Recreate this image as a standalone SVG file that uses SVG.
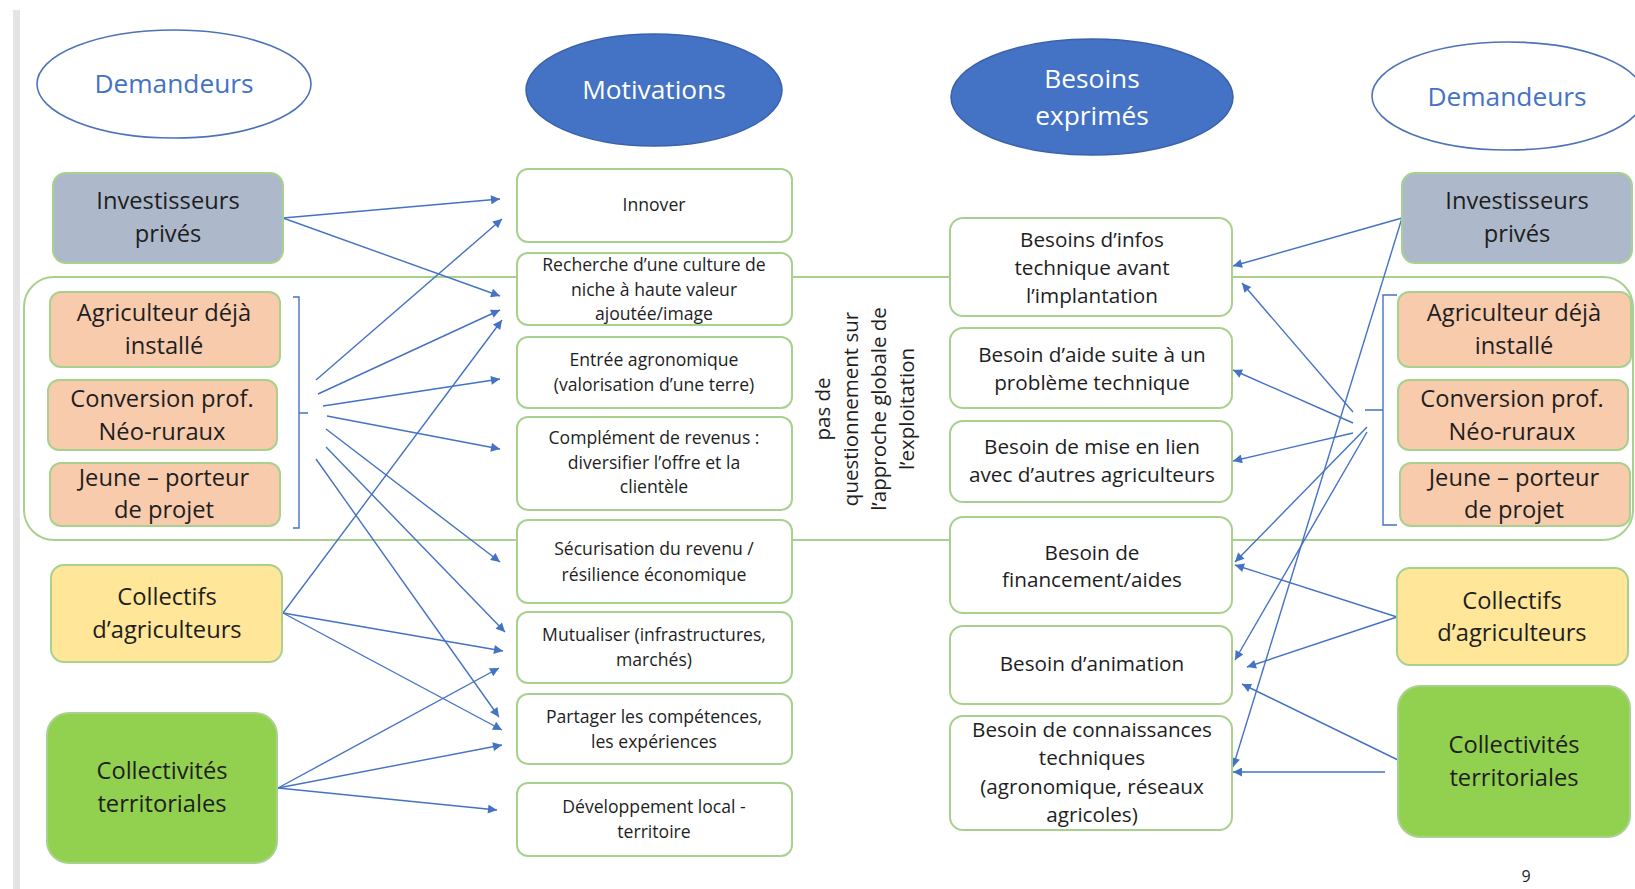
<svg xmlns="http://www.w3.org/2000/svg" width="1635" height="889" viewBox="0 0 1635 889">
<defs>
<marker id="ah" viewBox="0 0 10 10" refX="10" refY="5" markerWidth="12" markerHeight="9" markerUnits="userSpaceOnUse" orient="auto"><path d="M0,0 L10,5 L0,10 z" fill="#4472C4"/></marker>
<style>
text{font-family:"Open Sans","Noto Sans","DejaVu Sans",sans-serif;text-anchor:middle;fill:#1e1e1e}
.box{stroke:#A9D18E;stroke-width:2}
.w{fill:#ffffff}
.inv{fill:#ADB9CA}
.pe{fill:#F8CBAD}
.ye{fill:#FFE699}
.gr{fill:#92D050}
.big{font-size:23.7px}
.mot{font-size:17.6px}
.bes{font-size:20.7px}
.ell{font-size:26.3px}
.hdr{fill:#4472C4;stroke:none}
.wt{fill:#ffffff}
.dem{fill:#ffffff;stroke:#4E72B8;stroke-width:1.6}
.blue{fill:#4472C4;stroke:#3A62AA;stroke-width:1.5}
.ln{stroke:#4472C4;stroke-width:1.4;fill:none}
.arr{stroke:#4472C4;stroke-width:1.4;fill:none;marker-end:url(#ah)}
</style>
</defs>
<rect width="1635" height="889" fill="#ffffff"/>
<rect x="13" y="10" width="7" height="879" fill="#E4E4E4"/>

<g id="group-frame">
<rect x="24" y="277" width="1609" height="263" rx="30" fill="none" stroke="#A9D18E" stroke-width="2"/>
</g>

<g id="brackets">
<path class="ln" d="M293,297 H299 V528 H293 M299,413 H308"/>
<path class="ln" d="M1397,295 H1383 V525 H1397 M1383,410 H1365"/>
</g>

<g id="connectors">
<path class="arr" d="M283,218 L500,199"/>
<path class="arr" d="M283,218 L500,296"/>
<path class="arr" d="M316,380 L502,219"/>
<path class="arr" d="M318,394 L500,310"/>
<path class="arr" d="M323,406 L500,379"/>
<path class="arr" d="M327,416 L500,449"/>
<path class="arr" d="M326,429 L500,562"/>
<path class="arr" d="M326,447 L505,632"/>
<path class="arr" d="M316,459 L499,717"/>
<path class="arr" d="M283,613 L502,320"/>
<path class="arr" d="M283,613 L503,651"/>
<path class="arr" d="M283,613 L502,730"/>
<path class="arr" d="M278,788 L499,668"/>
<path class="arr" d="M278,788 L502,745"/>
<path class="arr" d="M278,788 L497,810"/>
<path class="arr" d="M1402,218 L1233,266"/>
<path class="arr" d="M1402,218 L1233,767"/>
<path class="arr" d="M1353,412 L1242,283"/>
<path class="arr" d="M1353,423 L1233,370"/>
<path class="arr" d="M1353,433 L1233,461"/>
<path class="arr" d="M1367,427 L1235,562"/>
<path class="arr" d="M1367,432 L1235,660"/>
<path class="arr" d="M1397,617 L1235,565"/>
<path class="arr" d="M1397,617 L1247,667"/>
<path class="arr" d="M1398,760 L1242,684"/>
<path class="arr" d="M1385,772 L1233,772"/>
</g>

<g id="hdr-demandeurs-left">
<ellipse class="dem" cx="174" cy="84" rx="137" ry="54"/>
<text class="ell hdr" x="174" y="93">Demandeurs</text>
</g>
<g id="hdr-motivations">
<ellipse class="blue" cx="654" cy="90" rx="128" ry="56"/>
<text class="ell wt" x="654" y="99">Motivations</text>
</g>
<g id="hdr-besoins">
<ellipse class="blue" cx="1092" cy="97" rx="141" ry="58"/>
<text class="ell wt" x="1092" y="88">Besoins</text>
<text class="ell wt" x="1092" y="125">exprimés</text>
</g>
<g id="hdr-demandeurs-right">
<ellipse class="dem" cx="1508" cy="96" rx="136" ry="54"/>
<text class="ell hdr" x="1507" y="106">Demandeurs</text>
</g>

<g id="l-investisseurs"><rect class="box inv" x="53" y="173" width="230" height="90" rx="13"/>
<text class="big" x="168" y="209">Investisseurs</text><text class="big" x="168" y="242">privés</text></g>
<g id="l-agriculteur"><rect class="box pe" x="50" y="292" width="230" height="75" rx="11"/>
<text class="big" x="164" y="321">Agriculteur déjà</text><text class="big" x="164" y="354">installé</text></g>
<g id="l-conversion"><rect class="box pe" x="48" y="380" width="229" height="70" rx="11"/>
<text class="big" x="162" y="407">Conversion prof.</text><text class="big" x="162" y="440">Néo-ruraux</text></g>
<g id="l-jeune"><rect class="box pe" x="50" y="463" width="230" height="63" rx="11"/>
<text class="big" x="164" y="486">Jeune – porteur</text><text class="big" x="164" y="518">de projet</text></g>
<g id="l-collectifs"><rect class="box ye" x="51" y="565" width="231" height="97" rx="13"/>
<text class="big" x="167" y="605">Collectifs</text><text class="big" x="167" y="638">d’agriculteurs</text></g>
<g id="l-collectivites"><rect class="box gr" x="47" y="713" width="230" height="150" rx="22"/>
<text class="big" x="162" y="779">Collectivités</text><text class="big" x="162" y="812">territoriales</text></g>

<g id="m-innover"><rect class="box w" x="517" y="169" width="275" height="73" rx="11"/>
<text class="mot" x="654" y="211">Innover</text></g>
<g id="m-recherche"><rect class="box w" x="517" y="253" width="275" height="72" rx="11"/>
<text class="mot" x="654" y="271">Recherche d’une culture de</text><text class="mot" x="654" y="296">niche à haute valeur</text><text class="mot" x="654" y="320">ajoutée/image</text></g>
<g id="m-entree"><rect class="box w" x="517" y="337" width="275" height="71" rx="11"/>
<text class="mot" x="654" y="366">Entrée agronomique</text><text class="mot" x="654" y="391">(valorisation d’une terre)</text></g>
<g id="m-complement"><rect class="box w" x="517" y="417" width="275" height="93" rx="11"/>
<text class="mot" x="654" y="444">Complément de revenus :</text><text class="mot" x="654" y="469">diversifier l’offre et la</text><text class="mot" x="654" y="493">clientèle</text></g>
<g id="m-securisation"><rect class="box w" x="517" y="520" width="275" height="83" rx="11"/>
<text class="mot" x="654" y="555">Sécurisation du revenu /</text><text class="mot" x="654" y="581">résilience économique</text></g>
<g id="m-mutualiser"><rect class="box w" x="517" y="612" width="275" height="71" rx="11"/>
<text class="mot" x="654" y="641">Mutualiser (infrastructures,</text><text class="mot" x="654" y="666">marchés)</text></g>
<g id="m-partager"><rect class="box w" x="517" y="694" width="275" height="70" rx="11"/>
<text class="mot" x="654" y="723">Partager les compétences,</text><text class="mot" x="654" y="748">les expériences</text></g>
<g id="m-developpement"><rect class="box w" x="517" y="783" width="275" height="73" rx="11"/>
<text class="mot" x="654" y="813">Développement local -</text><text class="mot" x="654" y="838">territoire</text></g>

<g id="note">
<text font-size="20.5" fill="#333333" transform="translate(867,409) rotate(-90)">
<tspan x="0" y="-37">pas de</tspan><tspan x="0" y="-9">questionnement sur</tspan><tspan x="0" y="19">l’approche globale de</tspan><tspan x="0" y="47">l’exploitation</tspan></text>
</g>

<g id="b-infos"><rect class="box w" x="950" y="218" width="282" height="98" rx="13"/>
<text class="bes" x="1092" y="247">Besoins d’infos</text><text class="bes" x="1092" y="275">technique avant</text><text class="bes" x="1092" y="303">l’implantation</text></g>
<g id="b-aide"><rect class="box w" x="950" y="328" width="282" height="80" rx="13"/>
<text class="bes" x="1092" y="362">Besoin d’aide suite à un</text><text class="bes" x="1092" y="390">problème technique</text></g>
<g id="b-lien"><rect class="box w" x="950" y="421" width="282" height="81" rx="13"/>
<text class="bes" x="1092" y="454">Besoin de mise en lien</text><text class="bes" x="1092" y="482">avec d’autres agriculteurs</text></g>
<g id="b-financement"><rect class="box w" x="950" y="517" width="282" height="96" rx="13"/>
<text class="bes" x="1092" y="560">Besoin de</text><text class="bes" x="1092" y="587">financement/aides</text></g>
<g id="b-animation"><rect class="box w" x="950" y="626" width="282" height="78" rx="13"/>
<text class="bes" x="1092" y="671">Besoin d’animation</text></g>
<g id="b-connaissances"><rect class="box w" x="950" y="716" width="282" height="114" rx="13"/>
<text class="bes" x="1092" y="737">Besoin de connaissances</text><text class="bes" x="1092" y="765">techniques</text><text class="bes" x="1092" y="794">(agronomique, réseaux</text><text class="bes" x="1092" y="822">agricoles)</text></g>

<g id="r-investisseurs"><rect class="box inv" x="1402" y="173" width="230" height="90" rx="13"/>
<text class="big" x="1517" y="209">Investisseurs</text><text class="big" x="1517" y="242">privés</text></g>
<g id="r-agriculteur"><rect class="box pe" x="1398" y="292" width="233" height="75" rx="11"/>
<text class="big" x="1514" y="321">Agriculteur déjà</text><text class="big" x="1514" y="354">installé</text></g>
<g id="r-conversion"><rect class="box pe" x="1398" y="380" width="230" height="70" rx="11"/>
<text class="big" x="1512" y="407">Conversion prof.</text><text class="big" x="1512" y="440">Néo-ruraux</text></g>
<g id="r-jeune"><rect class="box pe" x="1400" y="463" width="230" height="63" rx="11"/>
<text class="big" x="1514" y="486">Jeune – porteur</text><text class="big" x="1514" y="518">de projet</text></g>
<g id="r-collectifs"><rect class="box ye" x="1397" y="568" width="231" height="97" rx="13"/>
<text class="big" x="1512" y="609">Collectifs</text><text class="big" x="1512" y="641">d’agriculteurs</text></g>
<g id="r-collectivites"><rect class="box gr" x="1398" y="686" width="232" height="151" rx="22"/>
<text class="big" x="1514" y="753">Collectivités</text><text class="big" x="1514" y="786">territoriales</text></g>

<text x="1526" y="882" font-size="16" fill="#8C8C8C">9</text>
</svg>
